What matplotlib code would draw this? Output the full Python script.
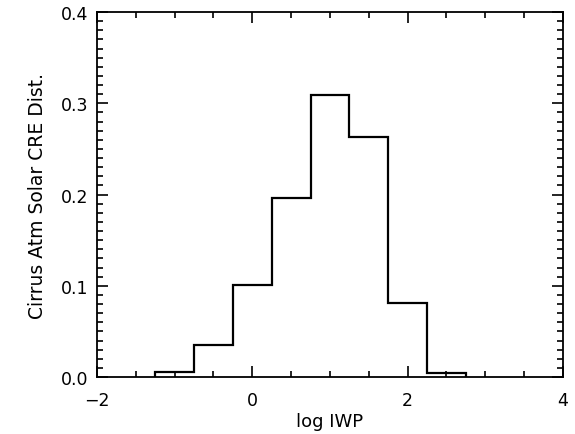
import numpy as np
import matplotlib.pyplot as plt
from matplotlib.ticker import MultipleLocator

# histogram bins (log IWP) and fractions
bin_edges = [-1.25, -0.75, -0.25, 0.25, 0.75, 1.25, 1.75, 2.25, 2.75]
fraction = [0.006, 0.035, 0.101, 0.196, 0.309, 0.263, 0.081, 0.004]

fig = plt.figure(figsize=(5.75, 4.35), dpi=100)
ax = fig.add_axes([0.1687, 0.131, 0.8103, 0.839])

ax.stairs(fraction, bin_edges, color="black", linewidth=1.6, baseline=0)

ax.set_xlim(-2, 4)
ax.set_ylim(0, 0.4)
ax.xaxis.set_major_locator(MultipleLocator(2))
ax.xaxis.set_minor_locator(MultipleLocator(0.5))
ax.yaxis.set_major_locator(MultipleLocator(0.1))
ax.yaxis.set_minor_locator(MultipleLocator(0.01))
ax.yaxis.set_major_formatter(lambda v, p: "%.1f" % v)
ax.xaxis.set_major_formatter(lambda v, p: "%d" % v if v >= 0 else "\u2212%d" % -v)

ax.tick_params(which="both", direction="in", top=True, right=True, labelsize=12.5, width=1.2)
ax.tick_params(axis="x", which="major", length=8, pad=10)
ax.tick_params(axis="y", which="major", length=8, pad=6)
ax.tick_params(which="minor", length=4)
for s in ax.spines.values():
    s.set_linewidth(1.3)

ax.set_xlabel("log IWP", fontsize=13, labelpad=2)
ax.set_ylabel("Cirrus Atm Solar CRE Dist.", fontsize=13.5, labelpad=10)

fig.savefig("out.png", dpi=100)
